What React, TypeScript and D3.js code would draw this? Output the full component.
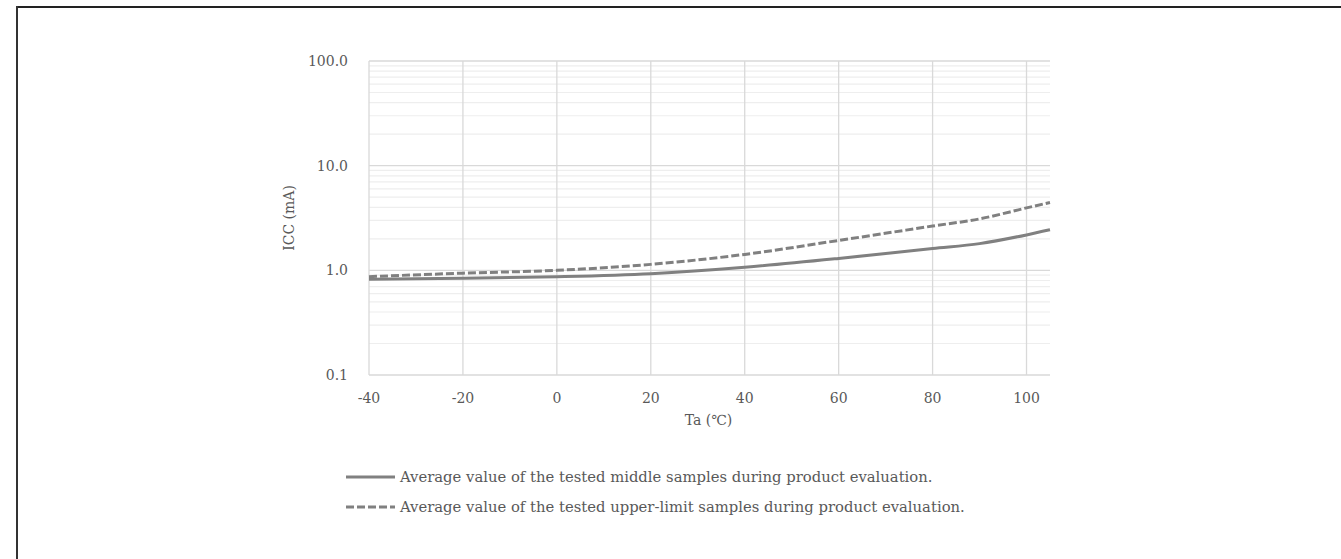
import * as React from "react";
import * as d3 from "d3";

// temperatures (Ta, °C) and ICC readings (mA)
const temps = [-40, -20, 0, 20, 40, 60, 80, 90, 100, 105];
const iccMiddle = [0.82, 0.84, 0.87, 0.93, 1.07, 1.3, 1.62, 1.8, 2.18, 2.44];
const iccUpper = [0.87, 0.94, 1.0, 1.14, 1.42, 1.93, 2.65, 3.1, 3.95, 4.45];

const xTicks = [-40, -20, 0, 20, 40, 60, 80, 100];
const yMajor = [0.1, 1, 10, 100];
const yLabels = ["0.1", "1.0", "10.0", "100.0"];

const legendItems = [
  { name: "Average value of the tested middle samples during product evaluation.", dash: null },
  { name: "Average value of the tested upper-limit samples during product evaluation.", dash: "8,3" },
];

const W = 1341, H = 559;
const margin = { left: 369, right: 291, top: 61, bottom: 184 };
const FONT = "'DejaVu Serif', serif";

export default function App() {
  const iw = W - margin.left - margin.right;
  const ih = H - margin.top - margin.bottom;

  const x = d3.scaleLinear().domain([-40, 105]).range([0, iw]);
  const y = d3.scaleLog().domain([0.1, 100]).range([ih, 0]);

  const minor: number[] = [];
  [0.1, 1, 10].forEach((d) => {
    for (let k = 2; k <= 9; k++) minor.push(d * k);
  });

  const line = d3
    .line<number>()
    .curve(d3.curveMonotoneX)
    .x((_, i) => x(temps[i]))
    .y((d) => y(d));

  const series = [
    { values: iccMiddle, dash: null },
    { values: iccUpper, dash: "8,3" },
  ];

  return (
    <svg width={W} height={H} style={{ position: "absolute", left: 0, top: 0, background: "#fff" }}>
      <line x1={17} y1={7} x2={W} y2={7} stroke="#222" strokeWidth={2} />
      <line x1={17} y1={6} x2={17} y2={H} stroke="#333" strokeWidth={2} />
      <g transform={`translate(${margin.left},${margin.top})`}>
        {minor.map((d) => (
          <line key={"m" + d} x1={0} x2={iw} y1={y(d)} y2={y(d)} stroke="#eeeeee" strokeWidth={1.2} />
        ))}
        {yMajor.map((d) => (
          <line key={"M" + d} x1={0} x2={iw} y1={y(d)} y2={y(d)} stroke="#d9d9d9" strokeWidth={1.3} />
        ))}
        {xTicks.map((d) => (
          <line key={"v" + d} x1={x(d)} x2={x(d)} y1={0} y2={ih} stroke="#d9d9d9" strokeWidth={1.3} />
        ))}
        {series.map((s, i) => (
          <path
            key={i}
            d={line(s.values) || ""}
            fill="none"
            stroke="#808080"
            strokeWidth={3}
            strokeDasharray={s.dash || undefined}
          />
        ))}
        {yMajor.map((d, i) => (
          <text
            key={"yl" + d}
            x={-21}
            y={y(d)}
            dy="0.35em"
            textAnchor="end"
            fontFamily={FONT}
            fontSize={14}
            fill="#595959"
          >
            {yLabels[i]}
          </text>
        ))}
        {xTicks.map((d) => (
          <text
            key={"xl" + d}
            x={x(d)}
            y={ih + 28}
            textAnchor="middle"
            fontFamily={FONT}
            fontSize={14}
            fill="#595959"
          >
            {d}
          </text>
        ))}
        <text
          x={iw / 2 - 1}
          y={ih + 50}
          textAnchor="middle"
          fontFamily={FONT}
          fontSize={14}
          fill="#595959"
        >
          Ta (℃)
        </text>
        <text
          transform={`translate(${-75},${ih / 2}) rotate(-90)`}
          textAnchor="middle"
          fontFamily={FONT}
          fontSize={14}
          fill="#595959"
        >
          ICC (mA)
        </text>
      </g>
      {legendItems.map((it, i) => (
        <g key={i} transform={`translate(346,${477 + i * 30})`}>
          <line x1={0} x2={49} y1={0} y2={0} stroke="#808080" strokeWidth={3} strokeDasharray={it.dash || undefined} />
          <text x={54} y={0} dy="0.35em" fontFamily={FONT} fontSize={14.8} fill="#595959">
            {it.name}
          </text>
        </g>
      ))}
    </svg>
  );
}
